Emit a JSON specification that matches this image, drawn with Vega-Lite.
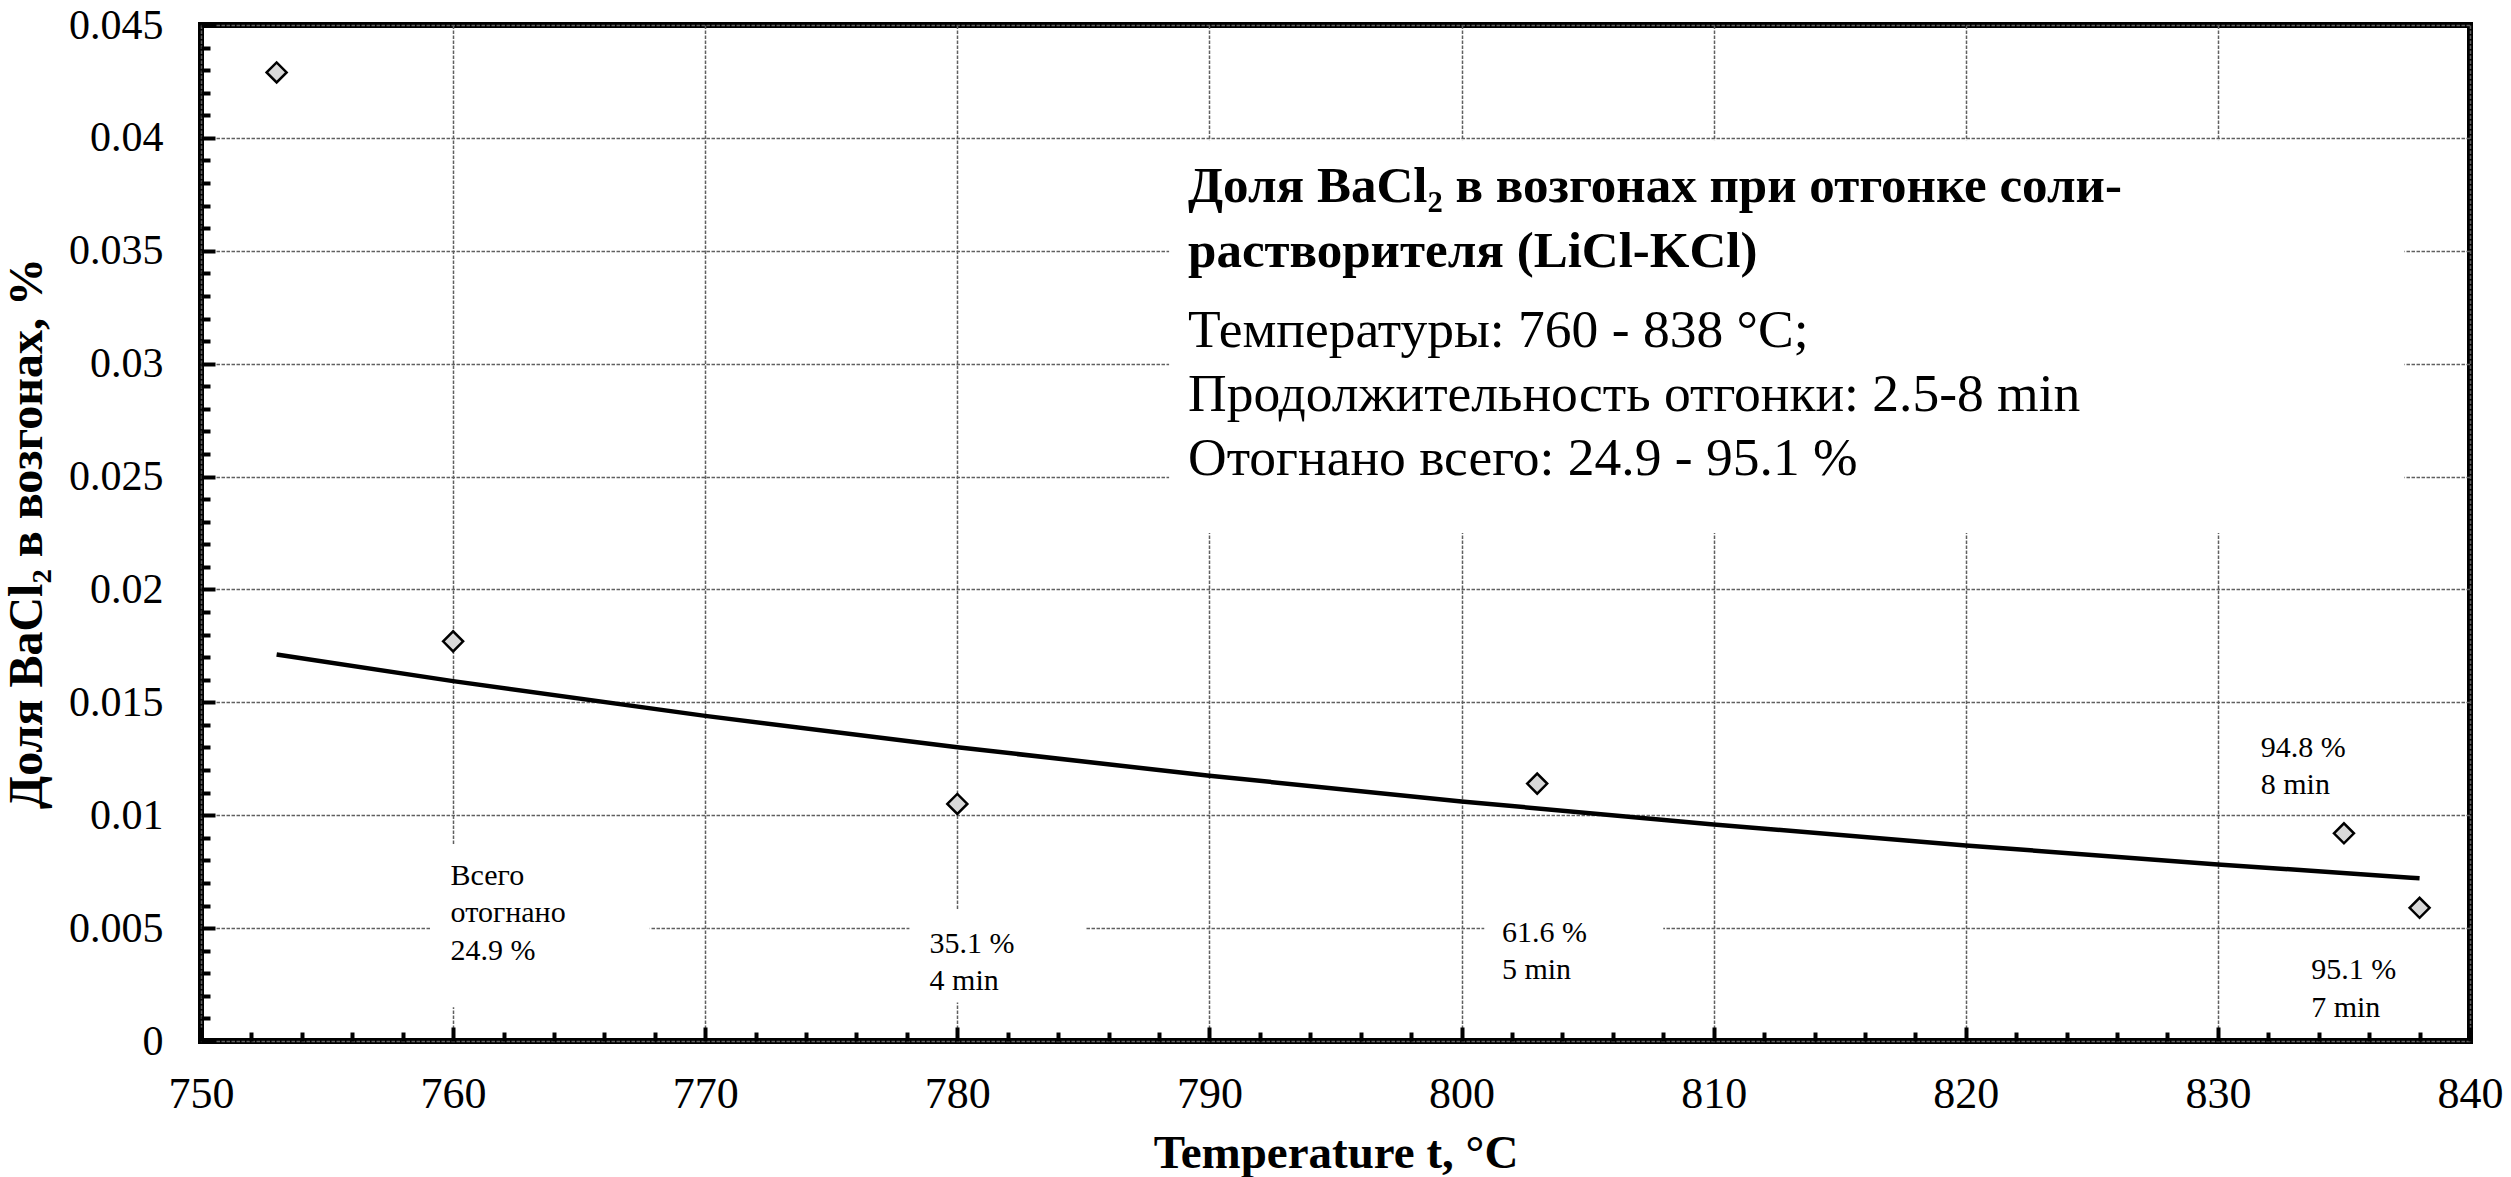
{
  "$schema": "https://vega.github.io/schema/vega-lite/v6.json",
  "width": 2269,
  "height": 1016,
  "autosize": {"type": "none"},
  "padding": {"left": 201, "top": 25, "right": 41, "bottom": 136},
  "background": "white",
  "config": {
    "font": "Liberation Serif",
    "view": {"stroke": "black", "strokeWidth": 6},
    "axis": {
      "domain": false,
      "grid": true,
      "gridColor": "#606060",
      "gridWidth": 1.5,
      "gridDash": [3.5, 1.5],
      "tickColor": "black",
      "tickWidth": 4,
      "labelColor": "black",
      "labelFont": "Liberation Serif",
      "labelOverlap": false,
      "labelFlush": false,
      "labelBound": false,
      "titleColor": "black",
      "titleFont": "Liberation Serif",
      "titleFontWeight": "bold"
    }
  },
  "datasets": {
    "measured": [
      {"t": 753, "share": 0.0429},
      {"t": 760, "share": 0.0177},
      {"t": 780, "share": 0.0105},
      {"t": 803, "share": 0.0114},
      {"t": 835, "share": 0.0092},
      {"t": 838, "share": 0.0059}
    ],
    "trend": [
      {"t": 753, "share": 0.01712},
      {"t": 760, "share": 0.01594},
      {"t": 770, "share": 0.0144},
      {"t": 780, "share": 0.01301},
      {"t": 790, "share": 0.01175},
      {"t": 800, "share": 0.01061},
      {"t": 810, "share": 0.00959},
      {"t": 820, "share": 0.00866},
      {"t": 830, "share": 0.00782},
      {"t": 838, "share": 0.00721}
    ],
    "panels": [
      {"t0": 759.1, "t1": 767.8, "s0": 0.0015, "s1": 0.0087},
      {"t0": 778.1, "t1": 785.1, "s0": 0.0017, "s1": 0.0058},
      {"t0": 800.9, "t1": 808.0, "s0": 0.0018, "s1": 0.006},
      {"t0": 788.4, "t1": 837.4, "s0": 0.0225, "s1": 0.0399}
    ],
    "runNotes": [
      {"t": 759.9, "share": 0.00691, "note": "Всего\nотогнано\n24.9 %"},
      {"t": 778.9, "share": 0.00391, "note": "35.1 %\n4 min"},
      {"t": 801.6, "share": 0.0044, "note": "61.6 %\n5 min"},
      {"t": 831.7, "share": 0.01259, "note": "94.8 %\n8 min"},
      {"t": 833.7, "share": 0.00273, "note": "95.1 %\n7 min"}
    ],
    "heading": [
      {"t": 789.15, "share": 0.03717, "note": "Доля BaCl₂ в возгонах при отгонке соли-\nрастворителя (LiCl-KCl)"}
    ],
    "conditions": [
      {"t": 789.15, "share": 0.03075, "note": "Температуры: 760 - 838 °C;\nПродолжительность отгонки: 2.5-8 min\nОтогнано всего: 24.9 - 95.1 %"}
    ]
  },
  "layer": [
    {
      "data": {"name": "panels"},
      "mark": {"type": "rect", "fill": "white", "stroke": null},
      "encoding": {
        "x": {
          "field": "t0",
          "type": "quantitative",
          "scale": {"domain": [750, 840], "nice": false, "zero": false},
          "axis": {
            "title": "Temperature t, °C",
            "titleFontSize": 47,
            "titleY": 126,
            "titleBaseline": "alphabetic",
            "tickCount": 45,
            "format": "d",
            "labelExpr": "datum.value % 10 === 0 ? datum.label : ''",
            "labelFontSize": 44,
            "labelBaseline": "alphabetic",
            "labelPadding": 80,
            "tickSize": {"condition": {"test": "datum.value % 10 === 0", "value": -14}, "value": -9},
            "gridOpacity": {"condition": {"test": "datum.value % 10 === 0", "value": 1}, "value": 0}
          }
        },
        "x2": {"field": "t1"},
        "y": {
          "field": "s0",
          "type": "quantitative",
          "scale": {"domain": [0, 0.045], "nice": false},
          "axis": {
            "title": "Доля BaCl₂ в возгонах, %",
            "titleFontSize": 48,
            "titleAngle": 270,
            "titleX": -160,
            "titleBaseline": "alphabetic",
            "tickCount": 45,
            "format": "~g",
            "labelExpr": "round(datum.value * 1000) % 5 === 0 ? datum.label : ''",
            "labelFontSize": 42,
            "labelPadding": 52,
            "tickSize": {"condition": {"test": "round(datum.value * 1000) % 5 === 0", "value": -14}, "value": -9},
            "gridOpacity": {"condition": {"test": "round(datum.value * 1000) % 5 === 0", "value": 1}, "value": 0}
          }
        },
        "y2": {"field": "s1"}
      }
    },
    {
      "data": {"name": "trend"},
      "mark": {"type": "line", "color": "black", "strokeWidth": 4.5, "interpolate": "monotone"},
      "encoding": {
        "x": {"field": "t", "type": "quantitative"},
        "y": {"field": "share", "type": "quantitative"}
      }
    },
    {
      "data": {"name": "measured"},
      "mark": {"type": "point", "shape": "diamond", "size": 400, "filled": true, "fill": "#d9d9d9", "stroke": "black", "strokeWidth": 2.5, "opacity": 1},
      "encoding": {
        "x": {"field": "t", "type": "quantitative"},
        "y": {"field": "share", "type": "quantitative"}
      }
    },
    {
      "data": {"name": "runNotes"},
      "mark": {"type": "text", "align": "left", "baseline": "alphabetic", "fontSize": 30, "lineHeight": 37.5, "lineBreak": "\n", "color": "black"},
      "encoding": {
        "x": {"field": "t", "type": "quantitative"},
        "y": {"field": "share", "type": "quantitative"},
        "text": {"field": "note"}
      }
    },
    {
      "data": {"name": "heading"},
      "mark": {"type": "text", "align": "left", "baseline": "alphabetic", "fontSize": 51, "fontWeight": "bold", "lineHeight": 65, "lineBreak": "\n", "color": "black"},
      "encoding": {
        "x": {"field": "t", "type": "quantitative"},
        "y": {"field": "share", "type": "quantitative"},
        "text": {"field": "note"}
      }
    },
    {
      "data": {"name": "conditions"},
      "mark": {"type": "text", "align": "left", "baseline": "alphabetic", "fontSize": 53.5, "lineHeight": 64, "lineBreak": "\n", "color": "black"},
      "encoding": {
        "x": {"field": "t", "type": "quantitative"},
        "y": {"field": "share", "type": "quantitative"},
        "text": {"field": "note"}
      }
    }
  ]
}
